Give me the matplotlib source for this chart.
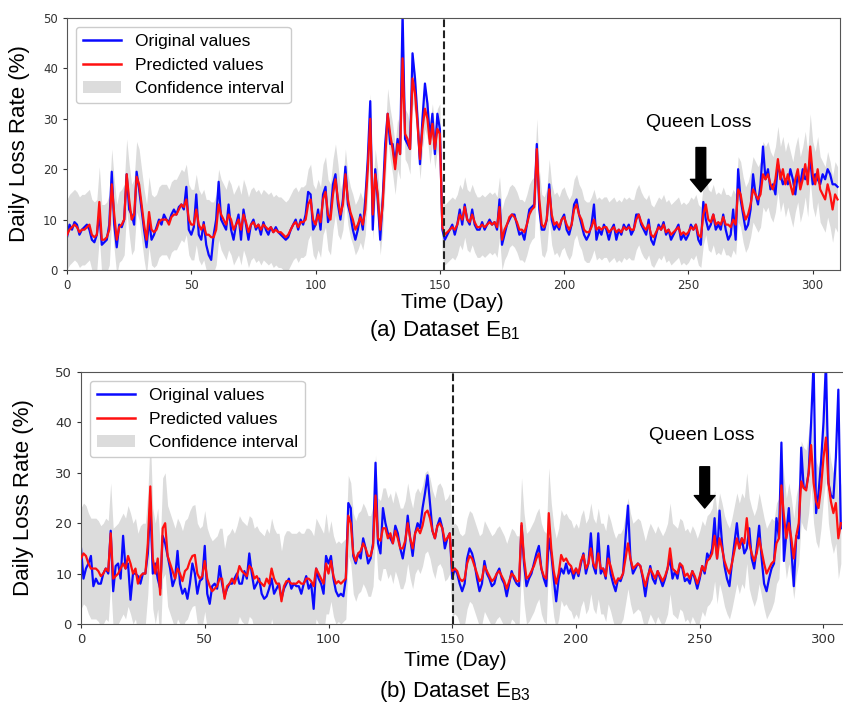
import numpy as np
from matplotlib import pyplot as plt
from matplotlib.patches import Patch
from matplotlib.lines import Line2D

# ---- Dataset E_B1 (panel a) ----
orig_a = [
    6.5, 9, 8, 9.5, 9, 7, 8, 8.5, 9, 8,
    6, 5.5, 7, 11, 5, 5.5, 6, 9, 19.5, 9,
    4.5, 9, 8.5, 10, 19, 12, 11, 9, 19.5, 16,
    12, 8, 4.5, 10, 6, 7, 8.5, 10, 9, 11,
    10, 9.5, 11, 12, 11, 12.5, 13, 12, 16.5, 8,
    7, 8.5, 15, 7, 6, 9.5, 5, 3, 2, 7,
    10, 17.5, 10, 9, 8, 13, 8, 6, 9, 11,
    6, 12, 9, 6, 9, 10, 8, 9, 7, 9.5,
    8, 7, 8.5, 7.5, 8.5, 7.5, 7, 6.5, 6, 6.5,
    8, 9, 10, 8, 10, 9, 11, 15.5, 15, 8,
    9, 12, 8, 15, 16.5, 9.5, 11, 17, 19, 13,
    10, 14, 20.5, 13, 11, 8, 6, 8, 11, 8,
    14, 22, 33.5, 8, 20, 14, 6, 14, 25, 31,
    25, 25, 21, 26, 23, 51, 26, 25, 24, 43,
    38, 30, 21, 30, 37, 33, 26, 31, 23, 31,
    28, 8, 6, 7, 8, 9, 7, 9, 12, 9,
    13, 10, 9, 12, 9, 8, 8, 9.5, 8, 9,
    10, 9, 9.5, 8, 14, 5, 7, 9, 10, 11,
    11, 9, 7, 7.5, 6, 9, 12, 12.5, 13, 25,
    12, 8, 8, 10, 17, 10, 8, 9, 8, 10,
    11, 8, 7, 9, 13, 14, 11, 9, 7, 6,
    7, 9, 13, 6, 8, 7, 9, 8, 6, 8,
    9, 6, 8, 7, 9, 8, 9, 7, 8, 11,
    11, 9, 8, 7, 10, 6, 5, 7, 9, 8,
    9.5, 7, 8, 6, 7, 8, 9, 6, 7, 6,
    7, 9, 8, 9, 6, 5, 13.5, 10, 8, 9,
    11, 8, 9, 8, 11, 8, 6, 7, 12, 6,
    20, 14, 11, 8, 9, 12, 19, 15, 13, 17,
    24.5, 18, 20, 16, 17, 15, 21, 19, 17, 18,
    17, 20, 18, 15, 19, 17, 20, 18, 19, 22,
    17, 19, 18, 17, 19, 18, 20, 19, 17, 17,
    16.5,
]
pred_a = [
    7, 8, 8.5, 9, 8.5, 7.5, 8, 8, 8.5, 9,
    7, 6.5, 7, 13.5, 6, 6, 6.5, 8, 17, 11,
    6, 8.5, 9, 10, 19, 14, 10, 11, 18.5, 17,
    13, 9, 6, 11.5, 8, 7.5, 8, 9.5, 10, 10,
    10, 9, 10.5, 11, 11, 12, 13, 12.5, 14, 10,
    9, 9, 12, 9, 8, 9, 7, 7, 6.5, 6.5,
    8, 13, 11, 10, 9, 11, 10, 8, 9, 10,
    8, 11, 9.5, 7.5, 9, 9.5, 8.5, 9, 8, 9,
    8.5, 8, 8.5, 7.5, 8, 7.5, 7.5, 7, 6.5, 7,
    8, 9, 9.5, 8.5, 9.5, 9.5, 10, 13, 14, 10,
    9, 11, 9.5, 14, 15.5, 11, 10, 15, 18, 14,
    11, 13, 19, 14, 11.5, 10, 8, 9, 10.5, 9,
    12, 20, 30, 11, 19, 15, 8, 13, 22, 31,
    27, 24, 20, 25, 23, 42, 27, 26, 24, 38,
    35, 29, 22, 28, 32, 30, 25, 29, 24, 28,
    27, 8.5, 7, 7.5, 8, 8.5, 8, 9, 11, 10,
    12.5, 10, 9.5, 11, 9.5, 8.5, 8.5, 9, 8.5, 9,
    9.5, 9, 9.5, 8.5, 12.5, 6, 8, 9, 10.5, 11,
    10.5, 9.5, 8, 8, 7.5, 9, 11, 12, 12.5, 24,
    14, 9, 8.5, 10, 16, 11, 9, 9.5, 8.5, 10,
    10.5, 9, 8, 9, 12, 13, 11, 10, 8, 7.5,
    7.5, 8.5, 10, 8, 8.5, 8, 8.5, 8.5, 7.5, 8,
    8.5, 7.5, 8, 7.5, 8.5, 8, 8.5, 8, 8, 10,
    11, 9.5, 8.5, 8, 9, 7, 6.5, 7.5, 8.5, 8,
    9, 7.5, 8, 7, 7.5, 8, 8.5, 7, 7.5, 7,
    7.5, 8.5, 8, 9, 7, 6.5, 11, 13, 10, 9.5,
    11, 9, 9.5, 9, 10.5, 9, 9, 8.5, 10, 9,
    16, 15, 12, 10, 11, 13, 16, 15, 14, 15,
    19, 18, 19, 17, 16, 18, 22, 18, 20, 17,
    19, 17, 15, 18, 20, 16, 18, 21, 17, 24.5,
    19, 17, 20, 16, 15, 14, 17, 15, 12, 15,
    14,
]
# half width of the confidence band, one value per 10 days
ci_half_a = [7, 7, 7, 7, 7, 7, 7, 7, 7, 7, 7, 5, 5, 5, 4,
             6, 6, 6, 6, 6, 6, 6, 6, 6, 6, 6, 6, 6.5, 6.5, 6.5, 6.5, 6.5]

# ---- Dataset E_B3 (panel b) ----
orig_b = [
    15, 9, 11, 12, 13.5, 7.5, 9, 8, 8, 10,
    11, 10, 18.5, 6.5, 11.5, 12, 9, 17.5, 11, 12,
    4.8, 10, 10, 9.5, 8, 10, 10, 14, 24, 10,
    12, 9, 7, 17.5, 16, 13.5, 11, 7.5, 9, 14.5,
    8, 6, 7, 5, 8, 12, 10, 6, 8.5, 9,
    15.5, 6, 4, 7.5, 8, 7, 11.5, 8, 5.5, 7,
    8, 8, 9, 10, 8, 8, 10.5, 9, 14, 10,
    7, 8, 9, 6, 5, 5.5, 7, 9, 6, 7,
    8, 5, 7, 8, 9, 7, 8, 7.5, 7.5, 6,
    8, 9.5, 7, 8, 3, 11, 9, 8, 6, 13.5,
    12, 13.5, 9, 6.5, 5.5, 6, 5.5, 9, 24, 23,
    13.5, 12, 14, 13, 17, 15, 12, 13, 16, 32,
    16, 14, 23, 20, 18, 17, 16, 19.5, 18, 15,
    13, 16, 21.5, 17, 13.5, 18, 20, 19, 23, 26,
    29.5, 24, 18.5, 17, 19.5, 21, 19, 15, 17, 18,
    9, 11, 10, 8, 6.5, 8, 13, 15, 14, 12,
    9, 6.5, 8, 12.5, 10, 9, 7.5, 8, 10, 11,
    9, 8, 5.5, 8, 10.5, 9, 8, 7.5, 19.5, 12,
    7.5, 9, 10, 12, 14, 15.5, 11, 9, 7.5, 17,
    14, 9, 4.5, 9, 11, 10, 12, 10, 11, 9,
    11, 9.5, 12, 14, 10, 12, 18, 11.5, 10, 18,
    10, 11, 9, 15.5, 10, 8, 6.5, 9, 8.5, 10,
    17, 23.5, 13, 10, 11, 12, 11.5, 9, 5.5, 9,
    11.5, 9, 8, 10.5, 9, 7.5, 9, 11, 13, 9,
    10.5, 9, 12, 11, 8.5, 9, 8, 10.5, 9, 7,
    9, 11.5, 10, 14, 13, 15, 21, 13, 22.5, 16,
    11.5, 9, 7.5, 12, 16, 20, 15, 17, 14, 15,
    19, 13, 11, 15, 19.5, 13, 8, 6.5, 9, 11,
    12, 21, 17, 36, 12.5, 18, 23, 15, 7.5, 17.5,
    17, 35, 27, 27, 30, 40, 52, 22, 26, 32,
    40, 52, 28, 25.5, 25, 33, 46.5, 19,
]
pred_b = [
    13, 14, 13.5, 12, 11, 11, 11, 10.5, 9.5, 10,
    11, 10.5, 18, 9, 9.5, 10, 11, 12, 11, 13.5,
    12, 10, 11, 8, 9.5, 10, 10, 16, 27.3, 13,
    10, 13, 5.8, 19, 20, 13.5, 12, 10.5, 9, 11,
    10, 8.5, 10.5, 11, 12.5, 13.5, 13.7, 10, 9, 9.5,
    12.5, 9, 7.5, 6.5, 7, 7.5, 9, 9, 5, 7.5,
    8, 9, 8, 9.5, 11.5, 10.5, 10, 9.5, 11.5, 11,
    9, 9.5, 8.5, 8, 7.5, 9, 8, 11, 9, 8,
    8, 4.5, 7.5, 8.5, 8.5, 8, 8, 8, 8.5, 8,
    8, 9, 9, 8.5, 7.5, 11, 10, 9, 8, 12,
    10, 12.5, 9.5, 8, 8.5, 8, 8.5, 9, 21.5, 20,
    14, 12.5, 14, 14.5, 16, 15, 13.5, 13.5, 15.5, 25.5,
    17, 16.5, 19, 19, 17, 18, 16, 18.5, 17, 15,
    15, 16.5, 20, 17, 15, 18, 19, 18, 19.5, 22,
    22.5, 21, 18.5, 17, 19.5, 20, 19, 16.5, 17, 18,
    10.5, 11, 10.5, 9, 8.5, 9, 12, 13.5, 13, 11.5,
    10, 8.5, 9, 11.5, 10.5, 9.5, 8.5, 9, 10, 10.5,
    9.5, 8.5, 7, 8.5, 10, 9.5, 8.5, 8.5, 20, 13,
    9, 9.5, 10.5, 11.5, 13, 14, 11, 9.5, 9, 22,
    15, 10.5, 8, 10, 13.7, 12.5, 13, 12, 11.5, 10,
    11, 10, 12.5, 13.7, 11, 12, 15, 12, 11, 14,
    11, 11, 9.5, 13, 11.5, 9.5, 8, 9, 9, 10,
    13, 16, 13, 11, 11.5, 12, 11.5, 9.5, 7.5, 9.5,
    11, 10, 9, 10.5, 9.5, 8.5, 9.5, 11, 15, 11,
    10.5, 10, 12, 11.5, 9.5, 10, 9, 10.5, 9.5, 8,
    9.5, 11.5, 10.5, 12.5, 13, 14, 17.5, 13, 17, 15,
    12.5, 11, 10, 12, 14.5, 17, 15, 17, 16, 21,
    16, 14, 12.5, 14, 17, 14.5, 12, 10, 11, 12,
    12.5, 16, 17, 27.5, 21.5, 17, 20, 17, 13, 17.5,
    20, 28.3, 27, 26.5, 30, 35.5, 28, 24.3, 23, 27,
    33, 37, 28, 24.3, 22, 24, 17, 20,
]
ci_half_b = [10, 10, 10, 10, 10, 10, 10, 10, 10, 10, 8, 8, 8, 8, 8,
             9, 9, 9, 9, 9, 9, 9, 9, 9, 9, 9, 9, 9, 8, 8, 8]

SANS = ['Liberation Sans', 'DejaVu Sans']


def draw_panel(fig, rect, orig, pred, ci_half, xmax, split_day, queen_xy, arrow_top, arrow_tip,
               tick_size):
    ax = fig.add_axes(rect)
    days = np.arange(len(orig))
    pred = np.array(pred, dtype=float)
    half = np.repeat(ci_half, 10)[:len(pred)]
    ax.fill_between(days, pred - half, pred + half, color='#dcdcdc', lw=0, zorder=1)
    ax.plot(days, orig, color='#0a0aff', lw=1.6, zorder=2)
    ax.plot(days, pred, color='#ff1010', lw=1.6, zorder=3)
    ax.axvline(split_day, color='#222222', ls='--', lw=1.5, zorder=4)

    ax.set_xlim(0, xmax)
    ax.set_ylim(0, 50)
    ax.set_xticks(range(0, 301, 50))
    ax.set_yticks(range(0, 51, 10))
    ax.tick_params(labelsize=tick_size, colors='#333333', length=3)
    for sp in ax.spines.values():
        sp.set_color('#555555')

    handles = [Line2D([], [], color='#0a0aff', lw=1.8),
               Line2D([], [], color='#ff1010', lw=1.8),
               Patch(facecolor='#dcdcdc', edgecolor='none')]
    ax.legend(handles, ['Original values', 'Predicted values', 'Confidence interval'],
              loc='upper left', prop={'family': SANS, 'size': 12.5},
              handlelength=2.2, borderaxespad=0.5, framealpha=1, edgecolor='#cccccc')

    ax.text(queen_xy[0], queen_xy[1], 'Queen Loss', ha='center', va='center',
            fontsize=14, family=SANS)
    ax.annotate('', xy=(queen_xy[0] + 1, arrow_tip), xytext=(queen_xy[0] + 1, arrow_top),
                arrowprops=dict(facecolor='black', edgecolor='black', width=7,
                                headwidth=15, headlength=9, shrink=0))
    ax.set_ylabel('Daily Loss Rate (%)', fontsize=16, family=SANS)
    return ax


def main():
    fig = plt.figure(figsize=(8.43, 7.09), dpi=100)

    ax_a = draw_panel(fig, [0.0795, 0.6192, 0.917, 0.3554], orig_a, pred_a, ci_half_a,
                      311, 151.5, (254, 29.2), 24.3, 15.5, 8.5)
    ax_a.yaxis.set_label_coords(-0.048, 0.5)

    ax_b = draw_panel(fig, [0.0961, 0.1199, 0.9063, 0.3554], orig_b, pred_b, ci_half_b,
                      308.7, 150.3, (251, 37.5), 31.2, 23, 9.5)
    ax_b.spines['right'].set_visible(False)
    ax_b.yaxis.set_label_coords(-0.062, 0.5)

    fig.text(452 / 843, 1 - 302 / 709, 'Time (Day)', ha='center', va='center',
             fontsize=15, family=SANS)
    fig.text(445 / 843, 1 - 331 / 709, r'(a) Dataset E$_\mathregular{B1}$', ha='center',
             va='center', fontsize=16, family=SANS)
    fig.text(455 / 843, 1 - 661 / 709, 'Time (Day)', ha='center', va='center',
             fontsize=15, family=SANS)
    fig.text(455 / 843, 1 - 691 / 709, r'(b) Dataset E$_\mathregular{B3}$', ha='center',
             va='center', fontsize=16, family=SANS)

    plt.savefig('out.png', dpi=100)
    plt.close(fig)


if __name__ == "__main__":
    main()
